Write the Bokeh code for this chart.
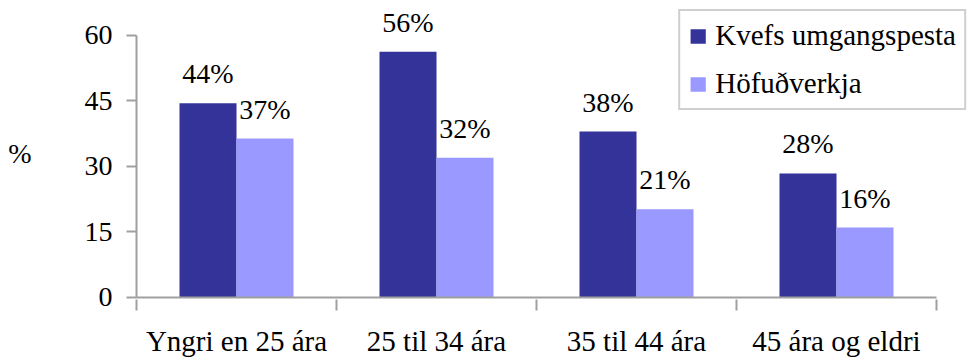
from bokeh.plotting import figure
from bokeh.models import Range1d, FixedTicker, ColumnDataSource, Legend, LegendItem
from bokeh.core.properties import value
from bokeh.embed import file_html
from bokeh.resources import INLINE

categories = ["Yngri en 25 ára", "25 til 34 ára", "35 til 44 ára", "45 ára og eldri"]
series_names = ["Kvefs umgangspesta", "Höfuðverkja"]
kvef = [44.5, 56.3, 38.0, 28.4]
hofud = [36.4, 32.0, 20.2, 16.0]
kvef_labels = ["44%", "56%", "38%", "28%"]
hofud_labels = ["37%", "32%", "21%", "16%"]
y_ticks = [0, 15, 30, 45, 60]
colors = ["#333399", "#9999FF"]

FONT = "Liberation Serif"
AXIS_COLOR = "#a0a0a0"
W, H = 968, 360
BAR_W = 0.285

n = len(categories)
centers = [i + 0.5 for i in range(n)]

src = ColumnDataSource(dict(
    x1=[c - BAR_W / 2 for c in centers],
    x2=[c + BAR_W / 2 for c in centers],
    kvef=kvef, hofud=hofud,
    kl=kvef_labels, hl=hofud_labels,
))

p = figure(width=W, height=H, output_backend="svg", toolbar_location=None,
           x_range=Range1d(-0.01, 4.16), y_range=Range1d(-0.46, 66.41),
           min_border_left=134, min_border_right=0, min_border_top=7,
           min_border_bottom=61)
p.outline_line_color = None
p.grid.visible = False
p.background_fill_color = "white"
p.border_fill_color = "white"

r1 = p.vbar(x="x1", top="kvef", bottom=0, width=BAR_W, source=src,
            fill_color=colors[0], line_color=None)
r2 = p.vbar(x="x2", top="hofud", bottom=0, width=BAR_W, source=src,
            fill_color=colors[1], line_color=None)

# axis lines (limited to the data extent)
p.segment(x0=[0, 0], y0=[0, 0], x1=[n, 0], y1=[0, y_ticks[-1]],
          line_color=AXIS_COLOR, line_width=2)

# value labels
for xcol, ycol, lcol in (("x1", "kvef", "kl"), ("x2", "hofud", "hl")):
    p.text(x=xcol, y=ycol, text=lcol, source=src, text_align="center",
           text_baseline="bottom", y_offset=-14,
           text_font=value(FONT), text_font_size="28px", text_color="black")

# x axis
xa = p.xaxis[0]
xa.ticker = FixedTicker(ticks=centers, minor_ticks=list(range(n + 1)))
xa.major_label_overrides = {c: lab for c, lab in zip(centers, categories)}
xa.axis_line_color = None
xa.major_tick_line_color = None
xa.major_tick_out = 11
xa.major_tick_in = 0
xa.minor_tick_line_color = AXIS_COLOR
xa.minor_tick_line_width = 2
xa.minor_tick_out = 11
xa.minor_tick_in = 0
xa.major_label_standoff = 14
xa.major_label_text_font = FONT
xa.major_label_text_font_size = "29px"
xa.major_label_text_color = "black"

# y axis
ya = p.yaxis[0]
ya.ticker = FixedTicker(ticks=y_ticks, minor_ticks=[])
ya.axis_line_color = None
ya.major_tick_line_color = AXIS_COLOR
ya.major_tick_line_width = 2
ya.major_tick_out = 8
ya.major_tick_in = 2
ya.minor_tick_line_color = None
ya.major_label_standoff = 14
ya.major_label_text_font = FONT
ya.major_label_text_font_size = "28px"
ya.major_label_text_color = "black"
ya.axis_label = "%"
ya.axis_label_orientation = "horizontal"
ya.axis_label_standoff = 50
ya.axis_label_text_font = FONT
ya.axis_label_text_font_style = "normal"
ya.axis_label_text_font_size = "28px"
ya.axis_label_text_color = "black"

legend = Legend(items=[LegendItem(label=series_names[0], renderers=[r1]),
                       LegendItem(label=series_names[1], renderers=[r2])],
                location="top_right", margin=2, padding=8, spacing=15,
                glyph_width=19, glyph_height=18, label_standoff=8,
                label_text_font=FONT, label_text_font_size="29px",
                label_text_color="black",
                border_line_color=AXIS_COLOR, border_line_width=2,
                background_fill_color="white", background_fill_alpha=1)
p.add_layout(legend)

open("out.html", "w").write(file_html(p, INLINE))
